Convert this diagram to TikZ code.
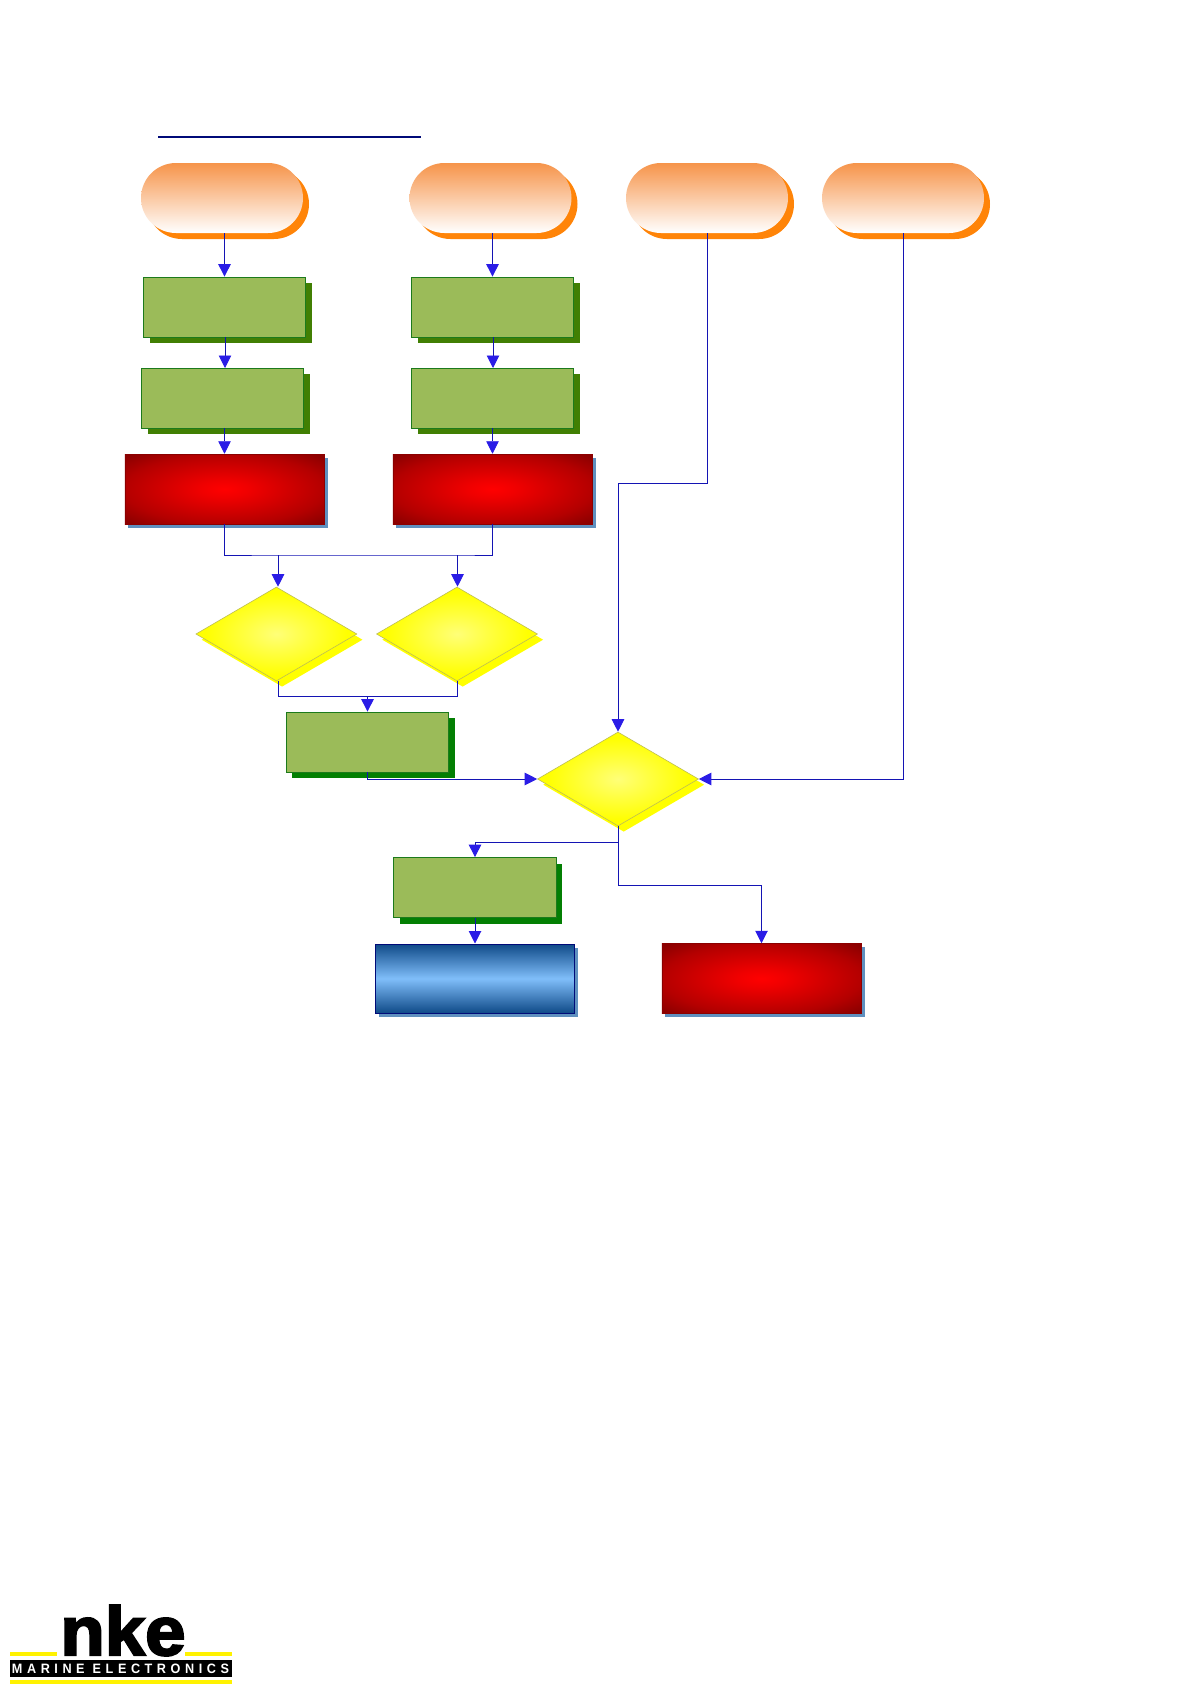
\documentclass[tikz,border=0pt]{standalone}
\usepackage{fontspec}
\usetikzlibrary{shapes.geometric,shadows,arrows.meta}
\newfontfamily\nkefont[BoldFeatures={FakeBold=3}]{Liberation Sans}
\newfontfamily\logofont[LetterSpace=36]{Liberation Sans}
\definecolor{wire}{HTML}{1414B4}
\definecolor{tipblue}{HTML}{2A1CE6}
\definecolor{pillorange}{HTML}{F6944A}
\definecolor{pillshadow}{HTML}{FF8408}
\definecolor{boxgreen}{HTML}{9BBB59}
\definecolor{boxedge}{HTML}{1C7A1C}
\definecolor{shadowA}{HTML}{417F03}
\definecolor{shadowB}{HTML}{037F03}
\definecolor{redcore}{HTML}{FF0000}
\definecolor{redhot}{HTML}{F00000}
\definecolor{redmid}{HTML}{B40000}
\definecolor{redrim}{HTML}{8B0000}
\definecolor{steelshadow}{HTML}{5F90BF}
\definecolor{yellowcore}{HTML}{FFFF78}
\definecolor{yellowmid}{HTML}{FFFF40}
\definecolor{yellowrim}{HTML}{FFFF00}
\definecolor{yellowedge}{HTML}{BDBD55}
\definecolor{bluedeep}{HTML}{0F4A88}
\definecolor{bluelight}{HTML}{80BEFA}
\definecolor{blueedge}{HTML}{000A78}
\definecolor{logoyellow}{HTML}{FFF200}
\pgfdeclareradialshading{redglow}{\pgfpointorigin}{color(0bp)=(redcore); color(6bp)=(redhot); color(25bp)=(redmid); color(34bp)=(redrim); color(50bp)=(redrim)}
\pgfdeclareradialshading{yellowglow}{\pgfpointorigin}{color(0bp)=(yellowcore); color(10bp)=(yellowmid); color(22bp)=(yellowrim); color(50bp)=(yellowrim)}
\tikzset{
  pillbox/.style={rectangle,rounded corners=35pt,minimum width=162pt,minimum height=70pt,inner sep=0pt,
    top color=pillorange,bottom color=white,draw=none,
    copy shadow={shadow xshift=6pt,shadow yshift=-6pt,fill=pillshadow,draw=none,opacity=1}},
  greenbase/.style={rectangle,minimum width=162.5pt,minimum height=60pt,inner sep=0pt,fill=boxgreen,draw=boxedge,line width=.8pt},
  greenbox/.style={greenbase,copy shadow={shadow xshift=6.3pt,shadow yshift=-6.3pt,fill=shadowA,draw=none,opacity=1}},
  greenboxb/.style={greenbase,copy shadow={shadow xshift=6pt,shadow yshift=-6pt,fill=shadowB,draw=none,opacity=1}},
  redbox/.style={rectangle,minimum width=199.5pt,minimum height=70pt,inner sep=0pt,shading=redglow,draw=redrim,line width=.5pt,
    copy shadow={shadow xshift=3.5pt,shadow yshift=-3.5pt,fill=steelshadow,draw=none,opacity=1}},
  bluebox/.style={rectangle,minimum width=199pt,minimum height=69pt,inner sep=0pt,
    top color=bluedeep,bottom color=bluedeep,middle color=bluelight,draw=blueedge,line width=1pt,
    copy shadow={shadow xshift=3.5pt,shadow yshift=-3.5pt,fill=steelshadow,draw=none,opacity=1}},
  choice/.style={diamond,minimum width=161pt,minimum height=94pt,inner sep=0pt,shading=yellowglow,draw=yellowedge,line width=.6pt,
    copy shadow={shadow xshift=5.7pt,shadow yshift=-5.7pt,fill=yellowrim,draw=none,opacity=1}},
  link/.style={draw=wire,line width=.95pt},
  flow/.style={link,-{Triangle[length=12.5pt,width=12.5pt,color=tipblue,fill=tipblue]}},
}
\begin{document}
\begin{tikzpicture}[x=1pt,y=-1pt]
\useasboundingbox (0,0) rectangle (1190,1684);
\fill[white] (0,0) rectangle (1190,1684);

% heading rule
\coordinate (ruleL) at (158,137);
\coordinate (ruleR) at (421,137);
\draw[color=blueedge,line width=1.6pt] (ruleL) -- (ruleR);

% terminals
\node[pillbox] (p1) at (222,198) {};
\node[pillbox] (p2) at (490.5,198) {};
\node[pillbox] (p3) at (707,198) {};
\node[pillbox] (p4) at (903,198) {};

% process boxes
\node[greenbox] (b1) at (224.5,307) {};
\node[greenbox] (b2) at (492.5,307) {};
\node[greenbox] (b3) at (222.5,398) {};
\node[greenbox] (b4) at (492.5,398) {};
\node[greenboxb] (b5) at (367.5,742) {};
\node[greenboxb] (b6) at (475,887.5) {};

% red boxes
\node[redbox] (r1) at (224.5,489) {};
\node[redbox] (r2) at (492.5,489) {};
\node[redbox] (r3) at (761.5,978.5) {};

% blue box
\node[bluebox] (u1) at (475,978.5) {};

% decisions
\node[choice] (d1) at (276.4,634) {};
\node[choice] (d2) at (457,634) {};
\node[choice] (d3) at (618,779) {};

% routing points
\coordinate (busA) at (278,555);
\coordinate (busB) at (457.5,555);
\coordinate (mergeA) at (278,696);
\coordinate (mergeB) at (457.5,696);
\coordinate (mergeC) at (367.5,696);
\coordinate (bend) at (618,483);
\coordinate (fork) at (618,842.5);
\coordinate (turn) at (618,885);

% connectors
\draw[flow] (p1.south -| b1.north) -- (b1.north);
\draw[flow] (p2.south -| b2.north) -- (b2.north);
\draw[flow] (b1.south) ++(.5,0) -- (225,368);
\draw[flow] (b2.south) ++(.5,0) -- (493,368);
\draw[flow] (b3.south -| r1.north) -- (r1.north);
\draw[flow] (b4.south) -- (b4.south |- r2.north);
\draw[link] (r1.south) |- (busA) -- (busB) -| (r2.south);
\draw[flow] (busA) -- (busA |- d1.north);
\draw[flow] (busB) -- (busB |- d2.north);
\draw[link] (mergeA |- d1.south) -- (mergeA) -- (mergeB) -- (mergeB |- d2.south);
\draw[flow] (mergeC) -- (b5.north);
\draw[flow] (b5.south) |- (d3.west);
\draw[flow] (p3.south) |- (bend) -- (d3.north);
\draw[flow] (p4.south) |- (d3.east);
\draw[link] (d3.south) -- (turn);
\draw[flow] (fork) -| (b6.north);
\draw[flow] (turn) -| (r3.north);
\draw[flow] (b6.south) -- (u1.north);

% logo
\fill[logoyellow] (10,1651.5) rectangle (57,1655.5);
\fill[logoyellow] (185,1651.5) rectangle (232,1655.5);
\fill[black] (10,1660) rectangle (232,1677);
\fill[logoyellow] (10,1680) rectangle (232,1684);
\node[anchor=center,inner sep=0pt] (nke) at (123,1630.5) {\resizebox{125pt}{50pt}{\nkefont\bfseries nke}};
\node[anchor=center,inner sep=0pt,text=white] (marine) at (120.5,1668.5) {\resizebox{217pt}{9.5pt}{\logofont\bfseries MARINE ELECTRONICS}};
\end{tikzpicture}
\end{document}
